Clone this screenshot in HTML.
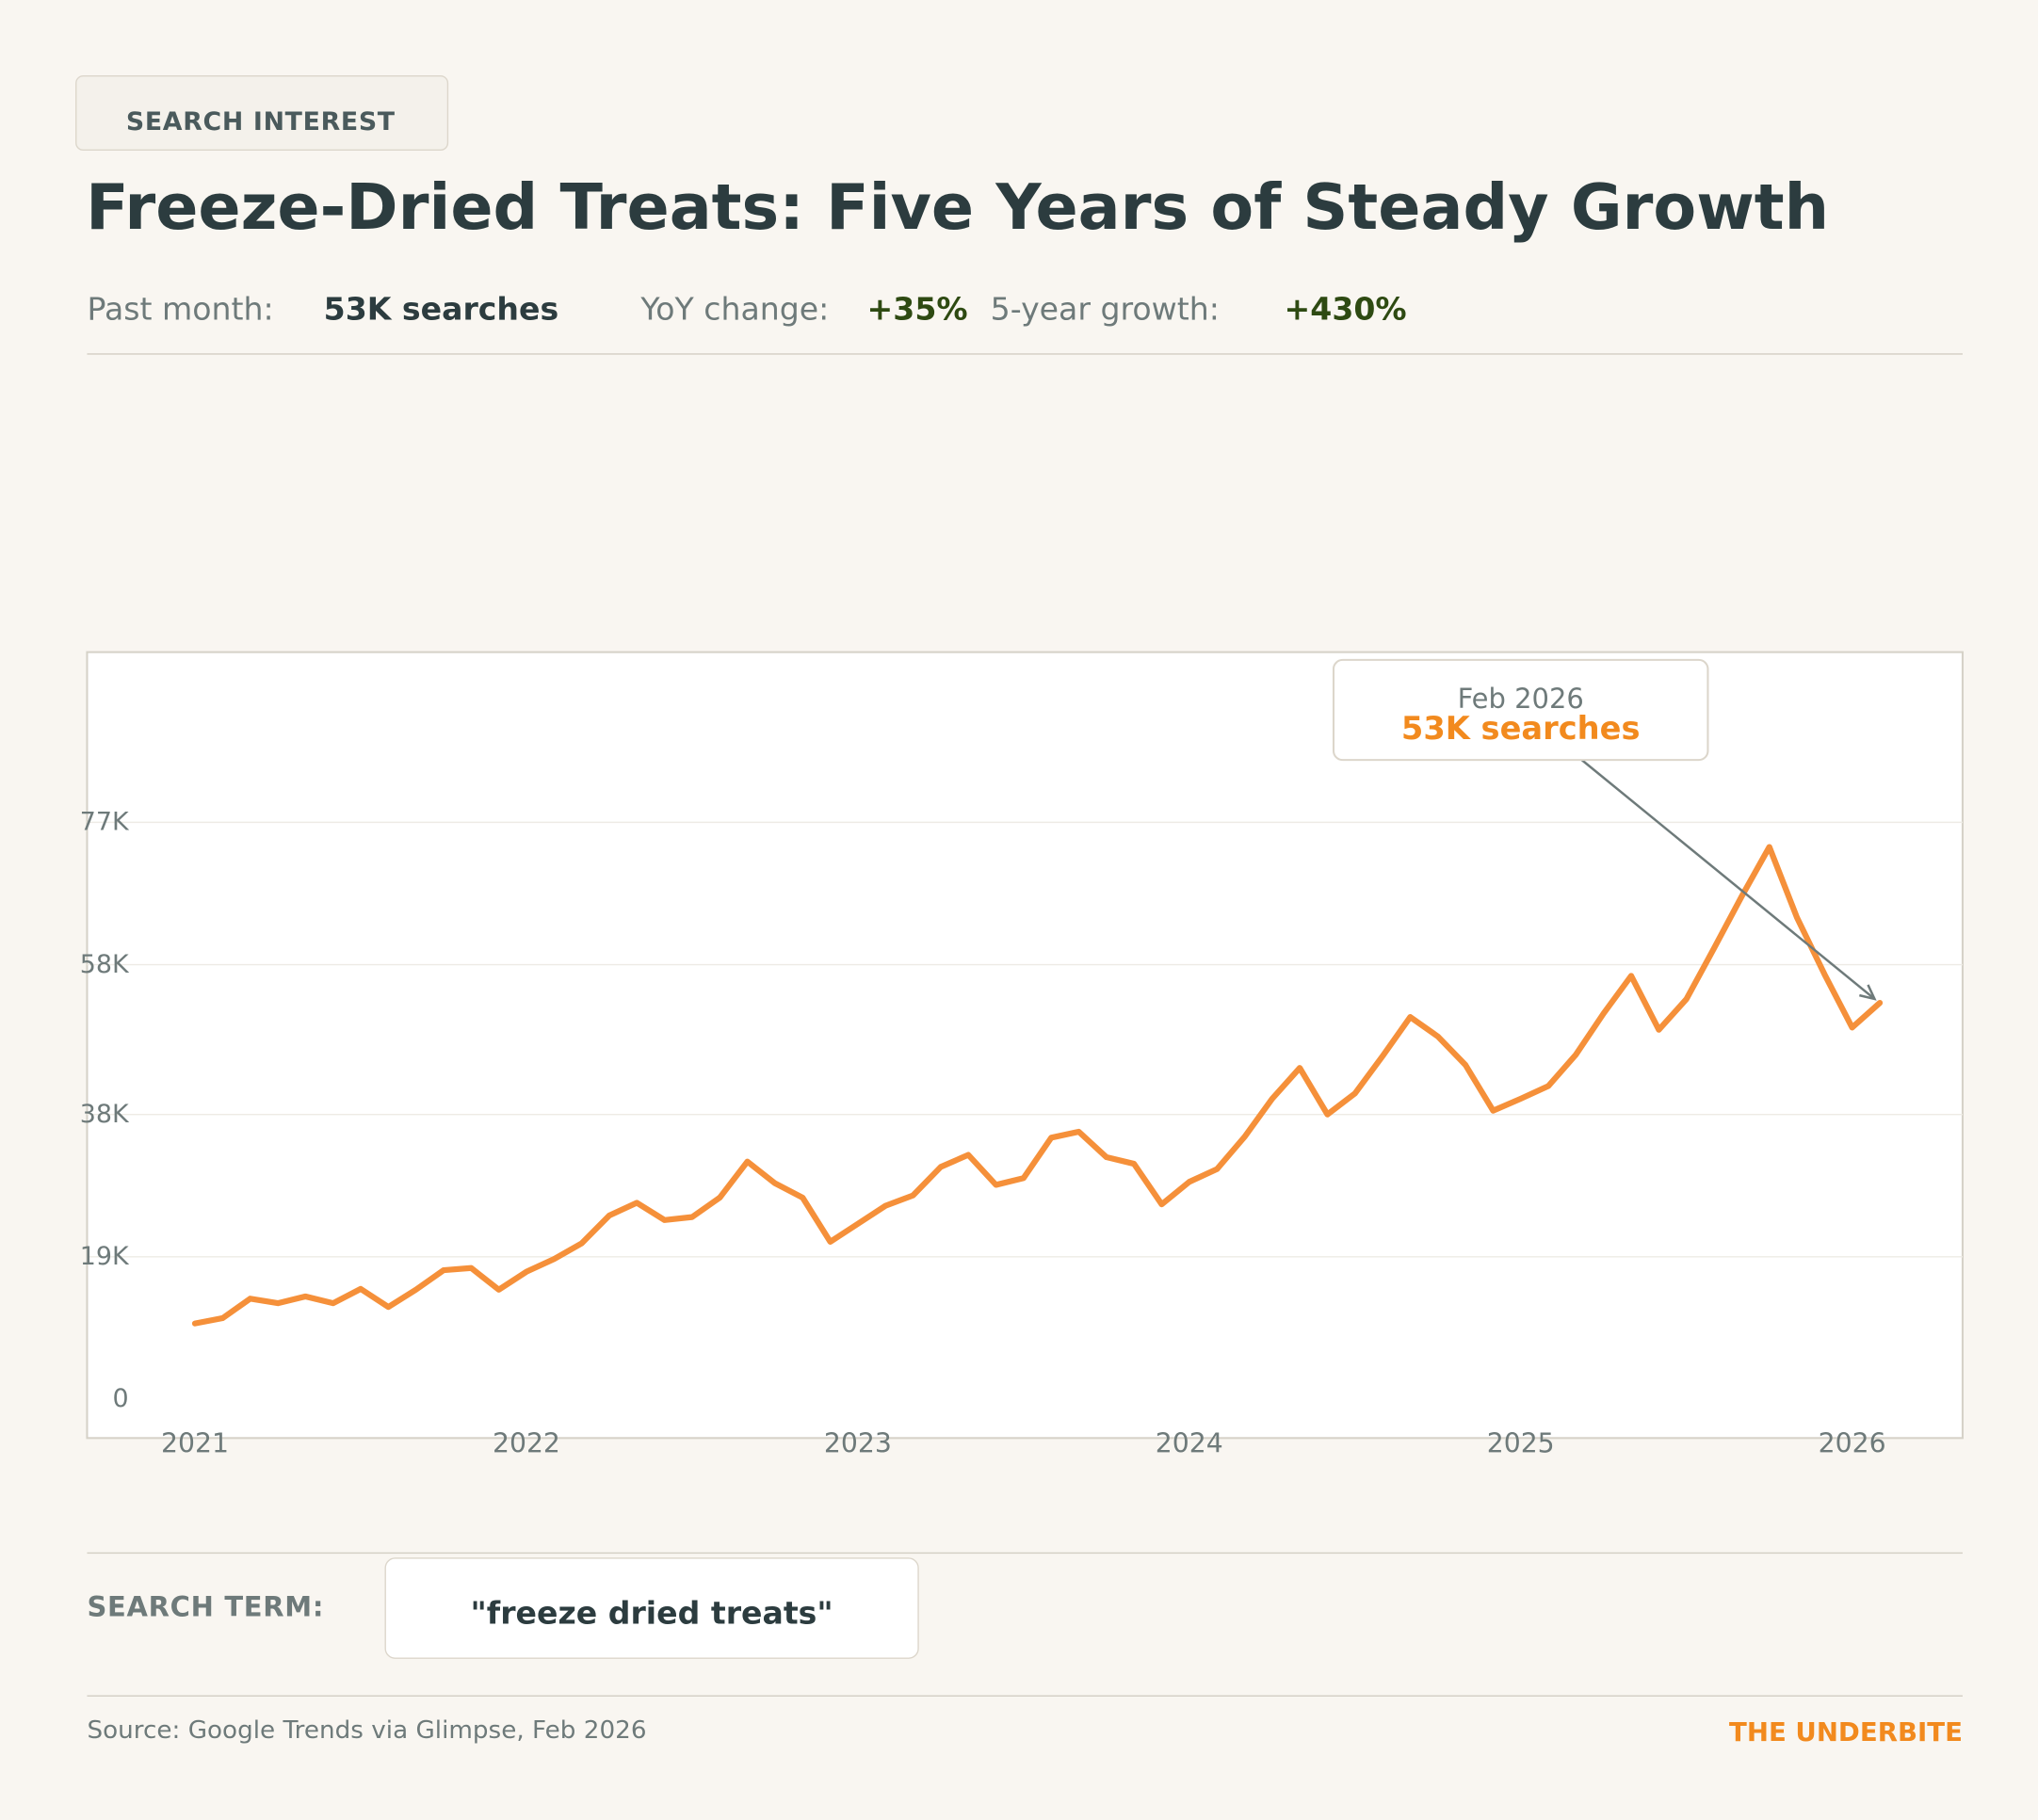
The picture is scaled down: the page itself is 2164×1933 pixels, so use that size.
<!DOCTYPE html>
<html><head><meta charset="utf-8">
<style>
html,body{margin:0;padding:0;background:#f9f6f1;}
#wrap{width:1568px;height:1401px;transform:scale(1.3801,1.3797);transform-origin:0 0;position:relative;font-family:"DejaVu Sans","Liberation Sans",sans-serif;}
.abs{position:absolute;white-space:nowrap;}
</style></head><body>
<div id="wrap">
  <div class="abs" style="left:58px;top:58px;width:285px;height:56px;border:1px solid #dcd6cb;border-radius:6px;background:#f4f1eb;"></div>
  <div class="abs" style="left:97px;top:82px;font-size:19.4px;font-weight:bold;color:#4a5a5c;letter-spacing:0.5px;">SEARCH INTEREST</div>
  <div class="abs" style="left:66px;top:132px;font-size:48.3px;font-weight:bold;color:#2c3c3f;">Freeze-Dried Treats: Five Years of Steady Growth</div>
  <div class="abs" style="left:67px;top:224px;font-size:24px;color:#6e7a7a;">Past month:</div>
  <div class="abs" style="left:249px;top:224px;font-size:24px;font-weight:bold;color:#2c3c3f;">53K searches</div>
  <div class="abs" style="left:493px;top:224px;font-size:24px;color:#6e7a7a;">YoY change:</div>
  <div class="abs" style="left:667px;top:224px;font-size:24px;font-weight:bold;color:#2e4a12;">+35%</div>
  <div class="abs" style="left:762px;top:224px;font-size:24px;color:#6e7a7a;">5-year growth:</div>
  <div class="abs" style="left:988px;top:224px;font-size:24px;font-weight:bold;color:#2e4a12;">+430%</div>
  <div class="abs" style="left:67px;top:272px;width:1443px;height:1px;background:#d2cdc3;"></div>

  <svg class="abs" id="chart" style="left:0;top:0;" width="1568" height="1401"></svg>

  <div class="abs" style="left:67px;top:1195px;width:1443px;height:1px;background:#d2cdc3;"></div>
  <div class="abs" style="left:67px;top:1225px;font-size:21px;font-weight:bold;color:#6e7a7a;letter-spacing:0.5px;">SEARCH TERM:</div>
  <div class="abs" style="left:296px;top:1199px;width:409px;height:76px;border:1px solid #dcd6cb;border-radius:8px;background:#fff;"></div>
  <div class="abs" style="left:296px;top:1228px;width:411px;text-align:center;font-size:24px;font-weight:bold;color:#2c3c3f;">"freeze dried treats"</div>
  <div class="abs" style="left:67px;top:1305px;width:1443px;height:1px;background:#d2cdc3;"></div>
  <div class="abs" style="left:67px;top:1321px;font-size:19px;color:#6e7a7a;">Source: Google Trends via Glimpse, Feb 2026</div>
  <div class="abs" style="right:58px;top:1321px;font-size:20px;font-weight:bold;color:#f28a1e;">THE UNDERBITE</div>
</div>
<script>
const monthLabels = ["2021","2022","2023","2024","2025","2026"];
const yTickValues = [0,19,38,58,77];
const yTickLabels = ["0","19K","38K","58K","77K"];
const searchesK = [10.1,10.8,13.4,12.8,13.7,12.8,14.7,12.3,14.6,17.2,17.5,14.6,
 17.0,18.7,20.8,24.5,26.2,23.9,24.3,26.9,31.7,28.8,26.9,21.0,
 23.4,25.8,27.2,31.0,32.6,28.6,29.5,34.9,35.7,32.3,31.4,26.0,
 29.0,30.7,35.0,40.1,44.2,38.0,40.8,45.8,51.0,48.4,44.6,38.5,
 40.1,41.8,46.0,51.5,56.5,49.3,53.4,60.2,67.1,73.7,64.3,56.7,
 49.6,52.9];
const calloutDate = "Feb 2026";
const calloutValue = "53K searches";

const NS="http://www.w3.org/2000/svg";
const svg=document.getElementById('chart');
const px0=150, pxPerMonth=21.25, py0=1077, pyPerK=5.766;
const xScale=i=>px0+i*pxPerMonth;
const yScale=v=>py0-v*pyPerK;
function mk(tag,attrs,parent){const e=document.createElementNS(NS,tag);for(const k in attrs)e.setAttribute(k,attrs[k]);(parent||svg).appendChild(e);return e;}

const frame=mk('rect',{x:67,y:502,width:1443,height:605,fill:'#fff',stroke:'#d6d2c8','stroke-width':1.5});



yTickValues.forEach((v,i)=>{
  const y=yScale(v);
  if(v>0){const g=mk('line',{x1:67,x2:1510,y1:y,y2:y,stroke:'#eeebe5','stroke-width':1});
  
  }
  const t=mk('text',{x:99,y:y+6,'text-anchor':'end','font-size':19.5,fill:'#6e7a7a','font-family':'DejaVu Sans, sans-serif'});
  t.textContent=yTickLabels[i];
  
  
});
monthLabels.forEach((l,i)=>{
  const t=mk('text',{x:xScale(i*12),y:1118,'text-anchor':'middle','font-size':20.5,fill:'#6e7a7a','font-family':'DejaVu Sans, sans-serif'});
  t.textContent=l;
  
  
});
const pts=searchesK.map((v,i)=>xScale(i).toFixed(1)+','+yScale(v).toFixed(1)).join(' ');
const line=mk('polyline',{points:pts,fill:'none',stroke:'#f5903a','stroke-width':4.5,'stroke-linejoin':'round','stroke-linecap':'round'});



const li=searchesK.length-1, lx=xScale(li), ly=yScale(searchesK[li]);
const ax=1217, ay=585, ex=lx-4, ey=ly-3;
const arr=mk('line',{x1:ax,y1:ay,x2:ex,y2:ey,stroke:'#6e7a7a','stroke-width':1.8});


const ang=Math.atan2(ey-ay,ex-ax), hl=12;
const head=mk('polyline',{points:`${ex-hl*Math.cos(ang-0.45)},${ey-hl*Math.sin(ang-0.45)} ${ex},${ey} ${ex-hl*Math.cos(ang+0.45)},${ey-hl*Math.sin(ang+0.45)}`,fill:'none',stroke:'#6e7a7a','stroke-width':1.8});


const box=mk('rect',{x:1026,y:508,width:288,height:77,rx:7,fill:'#fff',stroke:'#dcd6cb','stroke-width':1.5});


const t1=mk('text',{x:1170,y:545,'text-anchor':'middle','font-size':21,fill:'#6e7a7a','font-family':'DejaVu Sans, sans-serif'});
t1.textContent=calloutDate;


const t2=mk('text',{x:1170,y:569,'text-anchor':'middle','font-size':24.4,'font-weight':'bold',fill:'#f28a1e','font-family':'DejaVu Sans, sans-serif'});
t2.textContent=calloutValue;


</script>
</body></html>
